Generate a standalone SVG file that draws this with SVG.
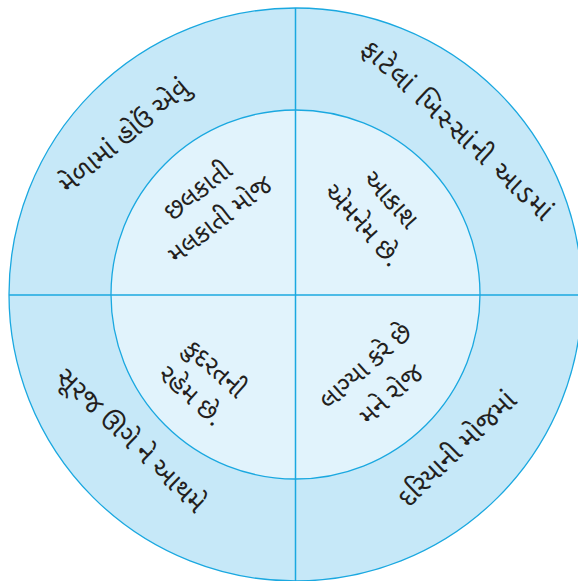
<svg xmlns="http://www.w3.org/2000/svg" width="578" height="581" viewBox="0 0 578 581">
<style>
.ring{fill:#c6e8f8;stroke:#1aa8e0;stroke-width:1.3}
.inner{fill:#e1f3fc;stroke:#1aa8e0;stroke-width:1.3}
.ln{stroke:#1aa8e0;stroke-width:1.5;fill:none}
text{font-family:"Noto Sans Gujarati","Lohit Gujarati","Shruti","Noto Sans",sans-serif;font-size:26px;fill:#231f20;text-anchor:middle}
.o{font-size:27px}
</style>
<rect width="578" height="581" fill="#ffffff"/>
<g id="outer-circle"><circle class="ring" cx="295.5" cy="294.5" r="286.5"/></g>
<g id="inner-circle"><circle class="inner" cx="295.5" cy="294.5" r="184.5"/></g>
<g id="connectors">
<line class="ln" x1="295.5" y1="8" x2="295.5" y2="581"/>
<line class="ln" x1="9" y1="295" x2="578" y2="295"/>
</g>
<g id="outer-tl" transform="translate(124,136) rotate(-40)"><text class="o" x="0" y="9">મેળામાં હોઉં એવું</text></g>
<g id="outer-tr" transform="translate(457,130) rotate(43)"><text class="o" x="0" y="9" textLength="250">ફાટેલાં ખિસ્સાંની આડમાં</text></g>
<g id="outer-bl" transform="translate(131,440) rotate(44)"><text class="o" x="0" y="9">સૂરજ ઊગે ને આથમે</text></g>
<g id="outer-br" transform="translate(457,449) rotate(-44)"><text class="o" x="0" y="9">દરિયાની મોજમાં</text></g>
<g id="inner-tl" transform="translate(208,204) rotate(-38)"><text x="0" y="-8">છલકાતી</text><text x="0" y="28">મલકાતી મોજ</text></g>
<g id="inner-tr" transform="translate(377,212) rotate(48)"><text x="0" y="-10">આકાશ</text><text x="0" y="28">એમનેમ છે.</text></g>
<g id="inner-bl" transform="translate(204,381) rotate(42)"><text x="0" y="-8">કુદરતની</text><text x="0" y="28">રહેમ છે.</text></g>
<g id="inner-br" transform="translate(378,380) rotate(-42)"><text x="0" y="-10">લાગ્યા કરે છે</text><text x="0" y="28">મને રોજ</text></g>
</svg>
